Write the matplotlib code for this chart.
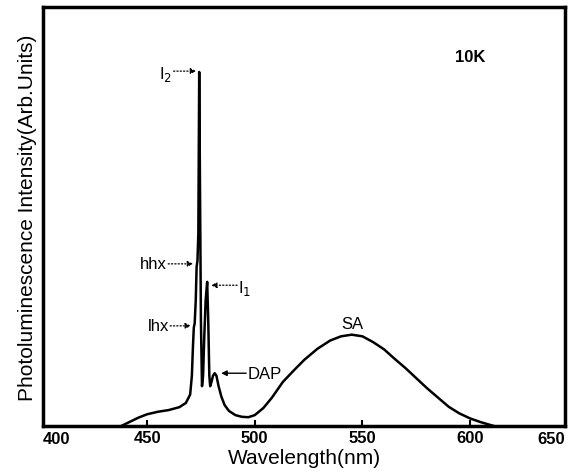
import matplotlib.pyplot as plt

plt.rcParams['font.family'] = ['Liberation Sans', 'DejaVu Sans']

# spectrum (arb. units, 0-100)
wavelength = [438, 442, 446, 450, 455, 460, 465, 468, 470, 470.8, 471.3, 471.7,
              472.1, 472.6, 473.0, 473.4, 473.8, 474.2, 474.6, 475.0, 475.5,
              476.0, 476.6, 477.2, 477.9, 478.4, 478.9, 479.3, 479.9, 480.6,
              481.4, 482.2, 483.2, 484.5, 486, 488, 491, 494, 497, 500, 504,
              508, 513, 518, 523, 529, 535, 540, 545, 550, 555, 560, 565, 570,
              575, 580, 585, 590, 595, 600, 605, 611]
intensity = [0, 1.0, 2.0, 2.8, 3.4, 3.8, 4.5, 5.5, 7.5, 12, 19, 23.5,
             24.5, 30, 38, 39.5, 46, 84.5, 55, 25, 9.5,
             12, 22, 30, 34.4, 25, 12, 9.5, 10.5, 12,
             12.6, 12, 9.5, 7, 5, 3.6, 2.6, 2.2, 2.1, 2.6, 4.3,
             6.8, 10.5, 13.2, 15.8, 18.4, 20.4, 21.4, 21.8, 21.4, 20, 18.3, 16, 13.8,
             11.4, 9, 6.8, 4.6, 3, 1.8, 0.9, 0]

tick_pos = [450, 500, 550, 600]
tick_labels = ['450', '500', '550', '600']

fig = plt.figure(figsize=(5.79, 4.77), dpi=100)
ax = fig.add_axes([0.0743, 0.1048, 0.9015, 0.8784])

ax.plot(wavelength, intensity, color='black', lw=1.8)

ax.set_xlim(401.7, 644)
ax.set_ylim(0, 100)
ax.set_yticks([])
ax.set_xticks(tick_pos)
ax.set_xticklabels(tick_labels, fontsize=12, fontweight='bold')
ax.tick_params(axis='x', direction='in', length=4, width=1.5, pad=3)
for s in ax.spines.values():
    s.set_linewidth(2.5)

# edge labels
ax.text(0.0, -0.012, '400', transform=ax.transAxes, ha='left', va='top',
        fontsize=12, fontweight='bold')
ax.text(1.0, -0.012, '650', transform=ax.transAxes, ha='right', va='top',
        fontsize=12, fontweight='bold')

ax.set_xlabel('Wavelength(nm)', fontsize=15, labelpad=2)
ax.set_ylabel('Photoluminescence Intensity(Arb.Units)', fontsize=15, labelpad=4)

dotted = dict(arrowstyle='-|>', color='black', lw=0.9, ls=':',
              mutation_scale=8, shrinkA=0, shrinkB=0)
solid = dict(arrowstyle='-|>', color='black', lw=1.0,
             mutation_scale=8, shrinkA=0, shrinkB=0)

ax.annotate('', xy=(472.8, 84.7), xytext=(462.3, 84.7), arrowprops=dotted)
ax.text(461.5, 84.2, 'I$_2$', ha='right', va='center', fontsize=12)

ax.annotate('', xy=(471.4, 38.7), xytext=(459.8, 38.7), arrowprops=dotted)
ax.text(459.3, 38.7, 'hhx', ha='right', va='center', fontsize=12)

ax.annotate('', xy=(470.4, 23.9), xytext=(460.7, 23.9), arrowprops=dotted)
ax.text(460.2, 23.9, 'lhx', ha='right', va='center', fontsize=12)

ax.annotate('', xy=(479.7, 33.6), xytext=(491.8, 33.6), arrowprops=dotted)
ax.text(492.3, 33.0, 'I$_1$', ha='left', va='center', fontsize=12)

ax.annotate('', xy=(484.4, 12.6), xytext=(496.0, 12.6), arrowprops=solid)
ax.text(496.5, 12.6, 'DAP', ha='left', va='center', fontsize=12)

ax.text(545.2, 24.5, 'SA', ha='center', va='center', fontsize=12)
ax.text(600, 88.3, '10K', ha='center', va='center', fontsize=12,
        fontweight='bold')

fig.savefig('out.png', dpi=100)
